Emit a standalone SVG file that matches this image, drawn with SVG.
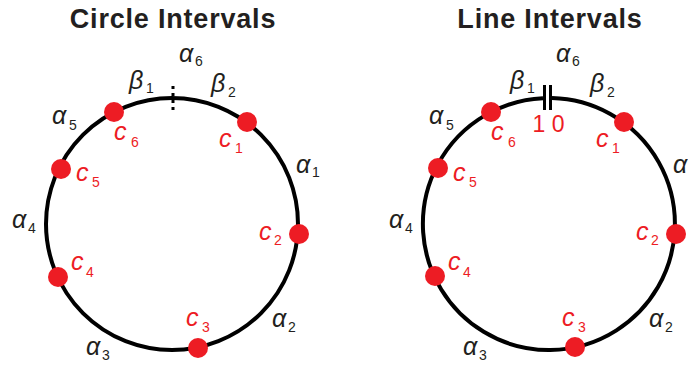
<svg xmlns="http://www.w3.org/2000/svg" width="688" height="365" viewBox="0 0 688 365">
<style>
.title{font-family:"Liberation Sans",Arial,sans-serif;font-weight:bold;font-size:27px;fill:#231f20;text-anchor:middle;letter-spacing:0.8px}
.g{font-family:"Liberation Sans",Arial,sans-serif;font-style:italic;font-size:25px;fill:#231f20}
.sub{font-style:normal;font-size:14px}
.c{font-family:"Liberation Sans",Arial,sans-serif;font-style:italic;font-size:25px;fill:#ed1c24}
.csub{font-style:normal;font-size:14px}
.arc{fill:none;stroke:#000;stroke-width:4}
.dot{fill:#ed1c24}
.num{font-family:"Liberation Sans",Arial,sans-serif;font-size:23px;fill:#ed1c24}
</style>
<rect width="688" height="365" fill="#fff"/>
<g id="titles">
<text class="title" x="173" y="28">Circle Intervals</text>
<text class="title" x="550" y="28">Line Intervals</text>
</g>
<g id="connectors">
<circle class="arc" cx="172" cy="224" r="126"/>
<line x1="173" y1="86" x2="173" y2="111" stroke="#000" stroke-width="3" stroke-dasharray="3 4"/>
<path class="arc" d="M 552 98.04 A 126 126 0 1 1 543 98.14"/>
<line x1="544.5" y1="85" x2="544.5" y2="110" stroke="#000" stroke-width="3"/>
<line x1="550.5" y1="85" x2="550.5" y2="110" stroke="#000" stroke-width="3"/>
<text class="num" x="548.5" y="132" text-anchor="middle">1 0</text>
</g>
<g id="interval-labels">
<text class="g" x="179" y="62">α<tspan class="sub" x="195" y="66">6</tspan></text>
<text class="g" x="129" y="89">β<tspan class="sub" x="146" y="93">1</tspan></text>
<text class="g" x="211" y="92">β<tspan class="sub" x="228" y="97">2</tspan></text>
<text class="g" x="52" y="124">α<tspan class="sub" x="69" y="130">5</tspan></text>
<text class="g" x="296" y="173">α<tspan class="sub" x="312" y="177">1</tspan></text>
<text class="g" x="12" y="228">α<tspan class="sub" x="28" y="233">4</tspan></text>
<text class="g" x="272" y="327">α<tspan class="sub" x="288" y="332">2</tspan></text>
<text class="g" x="86" y="355">α<tspan class="sub" x="102" y="360">3</tspan></text>
<text class="g" x="556" y="62">α<tspan class="sub" x="572" y="66">6</tspan></text>
<text class="g" x="510" y="89">β<tspan class="sub" x="527" y="93">1</tspan></text>
<text class="g" x="590" y="92">β<tspan class="sub" x="607" y="97">2</tspan></text>
<text class="g" x="429" y="124">α<tspan class="sub" x="446" y="130">5</tspan></text>
<text class="g" x="673" y="173">α<tspan class="sub" x="689" y="177">1</tspan></text>
<text class="g" x="389" y="228">α<tspan class="sub" x="405" y="233">4</tspan></text>
<text class="g" x="649" y="327">α<tspan class="sub" x="665" y="332">2</tspan></text>
<text class="g" x="463" y="355">α<tspan class="sub" x="479" y="360">3</tspan></text>
</g>
<g id="L-c1"><circle class="dot" cx="247" cy="122" r="10"/><text class="c" x="219" y="147">c<tspan class="csub" x="235" y="153">1</tspan></text></g>
<g id="L-c2"><circle class="dot" cx="299" cy="234" r="10"/><text class="c" x="259" y="240">c<tspan class="csub" x="274" y="245">2</tspan></text></g>
<g id="L-c3"><circle class="dot" cx="198" cy="348" r="10"/><text class="c" x="186" y="326">c<tspan class="csub" x="202" y="332">3</tspan></text></g>
<g id="L-c4"><circle class="dot" cx="58" cy="277" r="10"/><text class="c" x="71" y="270">c<tspan class="csub" x="86" y="277">4</tspan></text></g>
<g id="L-c5"><circle class="dot" cx="61" cy="169" r="10"/><text class="c" x="76" y="181">c<tspan class="csub" x="92" y="187">5</tspan></text></g>
<g id="L-c6"><circle class="dot" cx="114" cy="112" r="10"/><text class="c" x="114" y="140">c<tspan class="csub" x="131" y="147">6</tspan></text></g>
<g id="R-c1"><circle class="dot" cx="624" cy="122" r="10"/><text class="c" x="596" y="147">c<tspan class="csub" x="612" y="153">1</tspan></text></g>
<g id="R-c2"><circle class="dot" cx="676" cy="234" r="10"/><text class="c" x="636" y="240">c<tspan class="csub" x="651" y="245">2</tspan></text></g>
<g id="R-c3"><circle class="dot" cx="575" cy="347" r="10"/><text class="c" x="562" y="326">c<tspan class="csub" x="578" y="332">3</tspan></text></g>
<g id="R-c4"><circle class="dot" cx="435" cy="276" r="10"/><text class="c" x="448" y="270">c<tspan class="csub" x="463" y="277">4</tspan></text></g>
<g id="R-c5"><circle class="dot" cx="438" cy="168" r="10"/><text class="c" x="453" y="181">c<tspan class="csub" x="469" y="187">5</tspan></text></g>
<g id="R-c6"><circle class="dot" cx="491" cy="112" r="10"/><text class="c" x="491" y="140">c<tspan class="csub" x="508" y="147">6</tspan></text></g>
</svg>
